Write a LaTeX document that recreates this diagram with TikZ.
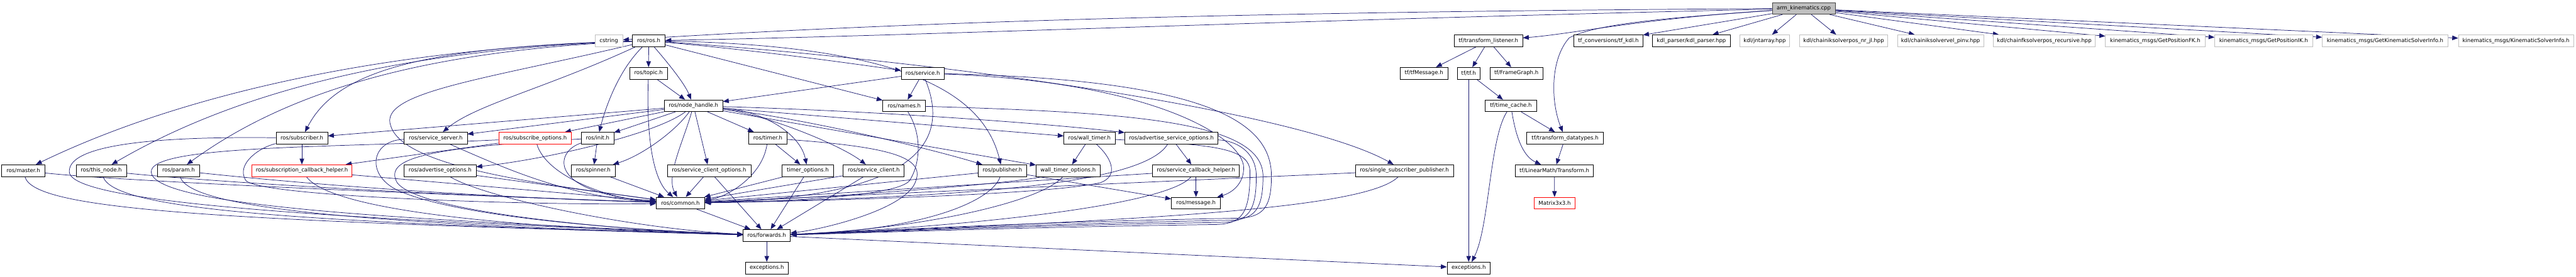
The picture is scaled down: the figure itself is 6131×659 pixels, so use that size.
\documentclass[tikz,border=0pt]{standalone}
\usepackage{fontspec}
\setmainfont{DejaVu Sans}
\usetikzlibrary{arrows.meta}
\definecolor{edgec}{HTML}{191970}
\definecolor{grayb}{HTML}{BFBFBF}
\definecolor{rootb}{HTML}{404040}
\pgfdeclarelayer{bg}
\pgfsetlayers{bg,main}
\tikzset{
  nd/.style={draw=black, line width=1.1pt, fill=white, minimum height=28pt, inner sep=0pt, text=black, font=\fontsize{12.8}{15}\selectfont},
  ext/.style={nd, draw=grayb},
  trunc/.style={nd, draw=red},
  rootn/.style={nd, fill=grayb, draw=rootb},
  e/.style={draw=edgec, line width=1.1pt, -{Triangle[length=14pt,width=11pt]}}
}
\begin{document}
\begin{tikzpicture}[x=1pt,y=-1pt]
\useasboundingbox (0,0) rectangle (6131,659);
% row 0
\node[rootn, minimum width=150pt] (root) at (4293,20) {arm\_kinematics.cpp};
% row 1
\node[ext, minimum width=66pt] (cstring) at (1449,97) {cstring};
\node[nd, minimum width=78pt] (ros) at (1544,97) {ros/ros.h};
\node[nd, minimum width=163pt] (tl) at (3542.5,97) {tf/transform\_listener.h};
\node[nd, minimum width=164pt] (tfkdl) at (3828,97) {tf\_conversions/tf\_kdl.h};
\node[nd, minimum width=185pt] (kdlp) at (4025.5,97) {kdl\_parser/kdl\_parser.hpp};
\node[ext, minimum width=118pt] (jnt) at (4200,97) {kdl/jntarray.hpp};
\node[ext, minimum width=210pt] (nrjl) at (4388,97) {kdl/chainiksolverpos\_nr\_jl.hpp};
\node[ext, minimum width=205pt] (pinv) at (4618.5,97) {kdl/chainiksolvervel\_pinv.hpp};
\node[ext, minimum width=243pt] (fkrec) at (4865.5,97) {kdl/chainfksolverpos\_recursive.hpp};
\node[ext, minimum width=237pt] (gpfk) at (5129.5,97) {kinematics\_msgs/GetPositionFK.h};
\node[ext, minimum width=233pt] (gpik) at (5387.5,97) {kinematics\_msgs/GetPositionIK.h};
\node[ext, minimum width=299pt] (gksi) at (5676.5,97) {kinematics\_msgs/GetKinematicSolverInfo.h};
\node[ext, minimum width=274pt] (ksi) at (5988,97) {kinematics\_msgs/KinematicSolverInfo.h};
% row 2
\node[nd, minimum width=89pt] (topic) at (1543.5,174.5) {ros/topic.h};
\node[nd, minimum width=102pt] (service) at (2196,174.5) {ros/service.h};
\node[nd, minimum width=114pt] (tfmsg) at (3389,174.5) {tf/tfMessage.h};
\node[nd, minimum width=55pt] (tftf) at (3495.5,174.5) {tf/tf.h};
\node[nd, minimum width=126pt] (fg) at (3609,174.5) {tf/FrameGraph.h};
% row 3
\node[nd, minimum width=139pt] (nh) at (1650.5,252) {ros/node\_handle.h};
\node[nd, minimum width=102pt] (names) at (2152,252) {ros/names.h};
\node[nd, minimum width=122pt] (tc) at (3596,252) {tf/time\_cache.h};
% row 4
\node[nd, minimum width=123pt] (subscriber) at (718.5,329) {ros/subscriber.h};
\node[nd, minimum width=150pt] (ssrv) at (1037,329) {ros/service\_server.h};
\node[trunc, minimum width=173pt] (subopt) at (1273.5,329) {ros/subscribe\_options.h};
\node[nd, minimum width=77pt] (init) at (1422.5,329) {ros/init.h};
\node[nd, minimum width=91pt] (timer) at (1827.5,329) {ros/timer.h};
\node[nd, minimum width=122pt] (wtimer) at (2593,329) {ros/wall\_timer.h};
\node[nd, minimum width=222pt] (aso) at (2788,329) {ros/advertise\_service\_options.h};
\node[nd, minimum width=182pt] (tdt) at (3725,329) {tf/transform\_datatypes.h};
% row 5
\node[nd, minimum width=103pt] (master) at (55.5,406.5) {ros/master.h};
\node[nd, minimum width=120pt] (thisnode) at (241,406.5) {ros/this\_node.h};
\node[nd, minimum width=100pt] (param) at (425,406.5) {ros/param.h};
\node[trunc, minimum width=239pt] (sch) at (718.5,406.5) {ros/subscription\_callback\_helper.h};
\node[nd, minimum width=171pt] (advopt) at (1047.5,406.5) {ros/advertise\_options.h};
\node[nd, minimum width=104pt] (spinner) at (1412,406.5) {ros/spinner.h};
\node[nd, minimum width=199pt] (sco) at (1687.5,406.5) {ros/service\_client\_options.h};
\node[nd, minimum width=123pt] (topt) at (1922.5,406.5) {timer\_options.h};
\node[nd, minimum width=145pt] (sclient) at (2079.5,406.5) {ros/service\_client.h};
\node[nd, minimum width=115pt] (pub) at (2385.5,406.5) {ros/publisher.h};
\node[nd, minimum width=152pt] (wto) at (2542,406.5) {wall\_timer\_options.h};
\node[nd, minimum width=207pt] (scbh) at (2846.5,406.5) {ros/service\_callback\_helper.h};
\node[nd, minimum width=233pt] (ssp) at (3342.5,406.5) {ros/single\_subscriber\_publisher.h};
\node[nd, minimum width=185pt] (lmt) at (3699.5,406.5) {tf/LinearMath/Transform.h};
% row 6
\node[nd, minimum width=115pt] (common) at (1619.5,484) {ros/common.h};
\node[nd, minimum width=117pt] (message) at (2846.5,484) {ros/message.h};
\node[trunc, minimum width=96pt] (matrix) at (3700,484) {Matrix3x3.h};
% row 7
\node[nd, minimum width=112pt] (fwd) at (1825,561) {ros/forwards.h};
% row 8
\node[nd, minimum width=102pt] (exc1) at (1825,638.5) {exceptions.h};
\node[nd, minimum width=103pt] (exc2) at (3495.5,638.5) {exceptions.h};

\begin{pgfonlayer}{bg}
\fill[white] (0,0) rectangle (6131,659);
% root
\draw[e] (root) .. controls (3000,28) and (2200,50) .. (cstring);
\draw[e] (root) .. controls (3000,50) and (2200,85) .. (ros);
\draw[e] (root) .. controls (3900,45) and (3750,80) .. (tl);
\draw[e] (root) -- (tfkdl);
\draw[e] (root) -- (kdlp);
\draw[e] (root) -- (jnt);
\draw[e] (root) -- (nrjl);
\draw[e] (root) -- (pinv);
\draw[e] (root) -- (fkrec);
\draw[e] (root) -- (gpfk);
\draw[e] (root) -- (gpik);
\draw[e] (root) -- (gksi);
\draw[e] (root) -- (ksi);
\draw[e] (root) .. controls (4000,40) and (3800,55) .. (3735,90) .. controls (3690,140) and (3690,240) .. (tdt);
% ros
\draw[e] (ros) -- (topic);
\draw[e] (ros) .. controls (1590,150) and (1630,200) .. (nh);
\draw[e] (ros) .. controls (1470,170) and (1440,260) .. (init);
\draw[e] (ros) .. controls (1850,125) and (2050,155) .. (service);
\draw[e] (ros) -- (names);
\draw[e] (ros) .. controls (2150,108) and (2340,220) .. (pub);
\draw[e] (ros) .. controls (2300,150) and (3100,270) .. (ssp);
\draw[e] (ros) .. controls (1300,210) and (1130,250) .. (ssrv);
\draw[e] (ros) .. controls (1000,112) and (800,170) .. (subscriber);
\draw[e] (ros) .. controls (900,115) and (420,230) .. (master);
\draw[e] (ros) .. controls (950,118) and (560,220) .. (thisnode);
\draw[e] (ros) .. controls (1000,122) and (680,220) .. (param);
\draw[e] (ros) .. controls (1150,190) and (900,220) .. (930,300) .. controls (960,400) and (1300,440) .. (common);
% topic
\draw[e] (topic) -- (nh);
\draw[e] (topic) .. controls (1538,330) and (1555,430) .. (common);
% service
\draw[e] (service) -- (names);
\draw[e] (service) -- (nh);
\draw[e] (service) .. controls (2260,330) and (2200,470) .. (common);
\draw[e] (service) .. controls (2750,195) and (2960,330) .. (2960,400) .. controls (2960,440) and (2930,460) .. (message);
\draw[e] (service) .. controls (2900,190) and (3026,300) .. (3026,420) .. controls (3026,495) and (3006,518) .. (2946,520) .. controls (2400,530) and (2100,550) .. (fwd);
% names
\draw[e] (names) .. controls (2200,330) and (2185,400) .. (2165,430) .. controls (2140,465) and (1900,480) .. (common);
\draw[e] (names) .. controls (2700,268) and (3006,290) .. (3006,420) .. controls (3006,500) and (2986,523) .. (2926,525) .. controls (2400,535) and (2100,552) .. (fwd);
% node_handle
\draw[e] (nh) -- (subopt);
\draw[e] (nh) -- (init);
\draw[e] (nh) .. controls (1610,310) and (1530,370) .. (spinner);
\draw[e] (nh) .. controls (1625,340) and (1585,420) .. (common);
\draw[e] (nh) -- (sco);
\draw[e] (nh) -- (timer);
\draw[e] (nh) -- (subscriber);
\draw[e] (nh) -- (ssrv);
\draw[e] (nh) .. controls (1560,320) and (1300,380) .. (advopt);
\draw[e] (nh) .. controls (1820,265) and (1905,320) .. (topt);
\draw[e] (nh) .. controls (1820,272) and (2000,345) .. (sclient);
\draw[e] (nh) .. controls (1900,280) and (2200,350) .. (pub);
\draw[e] (nh) -- (wtimer);
\draw[e] (nh) .. controls (2100,265) and (2500,295) .. (aso);
\draw[e] (nh) -- (wto);
% subscriber
\draw[e] (subscriber) -- (sch);
\draw[e] (subscriber) .. controls (620,350) and (560,390) .. (585,430) .. controls (620,470) and (1300,490) .. (common);
\draw[e] (subscriber) .. controls (400,325) and (160,340) .. (165,410) .. controls (170,490) and (900,525) .. (fwd);
% subscription_callback_helper
\draw[e] (sch) -- (common);
\draw[e] (sch) .. controls (780,490) and (1100,540) .. (fwd);
% subscribe_options
\draw[e] (subopt) -- (sch);
\draw[e] (subopt) .. controls (1300,420) and (1450,475) .. (common);
\draw[e] (subopt) .. controls (800,352) and (355,345) .. (360,410) .. controls (365,495) and (1000,525) .. (fwd);
% service_server
\draw[e] (ssrv) .. controls (1200,400) and (1350,470) .. (common);
\draw[e] (ssrv) .. controls (880,335) and (870,420) .. (950,455) .. controls (1100,520) and (1500,548) .. (fwd);
% advertise_options
\draw[e] (advopt) -- (common);
\draw[e] (advopt) .. controls (1150,470) and (1500,545) .. (fwd);
% init
\draw[e] (init) -- (spinner);
\draw[e] (init) .. controls (1320,360) and (1300,460) .. (common);
\draw[e] (init) .. controls (1000,352) and (915,380) .. (945,435) .. controls (1000,510) and (1500,550) .. (fwd);
% spinner, service_client_options
\draw[e] (spinner) -- (common);
\draw[e] (sco) -- (common);
\draw[e] (sco) -- (fwd);
% timer
\draw[e] (timer) -- (topt);
\draw[e] (timer) .. controls (1815,420) and (1730,470) .. (common);
\draw[e] (timer) .. controls (2120,350) and (2200,375) .. (2180,430) .. controls (2160,500) and (1950,548) .. (fwd);
% timer_options, service_client
\draw[e] (topt) -- (common);
\draw[e] (topt) -- (fwd);
\draw[e] (sclient) -- (common);
\draw[e] (sclient) -- (fwd);
% publisher
\draw[e] (pub) -- (common);
\draw[e] (pub) .. controls (2360,480) and (2200,548) .. (fwd);
\draw[e] (pub) -- (message);
% wall_timer
\draw[e] (wtimer) -- (wto);
\draw[e] (wtimer) .. controls (2650,380) and (2660,420) .. (2620,435) .. controls (2500,465) and (1900,480) .. (common);
\draw[e] (wtimer) .. controls (2880,345) and (2975,350) .. (2975,410) .. controls (2975,510) and (2955,533) .. (2895,535) .. controls (2400,542) and (2100,554) .. (fwd);
% wall_timer_options
\draw[e] (wto) .. controls (2400,440) and (1900,475) .. (common);
\draw[e] (wto) .. controls (2480,480) and (2200,545) .. (fwd);
% advertise_service_options
\draw[e] (aso) -- (scbh);
\draw[e] (aso) .. controls (2720,440) and (2300,470) .. (common);
\draw[e] (aso) .. controls (2940,335) and (2990,360) .. (2990,420) .. controls (2990,505) and (2970,528) .. (2910,530) .. controls (2400,538) and (2100,553) .. (fwd);
% service_callback_helper
\draw[e] (scbh) -- (message);
\draw[e] (scbh) -- (common);
\draw[e] (scbh) .. controls (2780,490) and (2300,540) .. (fwd);
% single_subscriber_publisher
\draw[e] (ssp) -- (common);
\draw[e] (ssp) .. controls (3250,500) and (2700,525) .. (fwd);
% master, this_node, param
\draw[e] (master) .. controls (250,428) and (800,455) .. (common);
\draw[e] (master) .. controls (80,500) and (500,525) .. (fwd);
\draw[e] (thisnode) .. controls (450,428) and (900,460) .. (common);
\draw[e] (thisnode) .. controls (270,500) and (700,530) .. (fwd);
\draw[e] (param) .. controls (600,425) and (1000,465) .. (common);
\draw[e] (param) .. controls (450,500) and (900,535) .. (fwd);
% common, forwards
\draw[e] (common) -- (fwd);
\draw[e] (fwd) -- (exc1);
\draw[e] (fwd) -- (exc2);
% tf
\draw[e] (tl) -- (tfmsg);
\draw[e] (tl) -- (tftf);
\draw[e] (tl) -- (fg);
\draw[e] (tftf) -- (exc2);
\draw[e] (tftf) -- (tc);
\draw[e] (tc) .. controls (3545,330) and (3545,540) .. (exc2);
\draw[e] (tc) -- (tdt);
\draw[e] (tc) .. controls (3610,340) and (3630,375) .. (lmt);
\draw[e] (tdt) -- (lmt);
\draw[e] (lmt) -- (matrix);
\end{pgfonlayer}
\end{tikzpicture}
\end{document}
